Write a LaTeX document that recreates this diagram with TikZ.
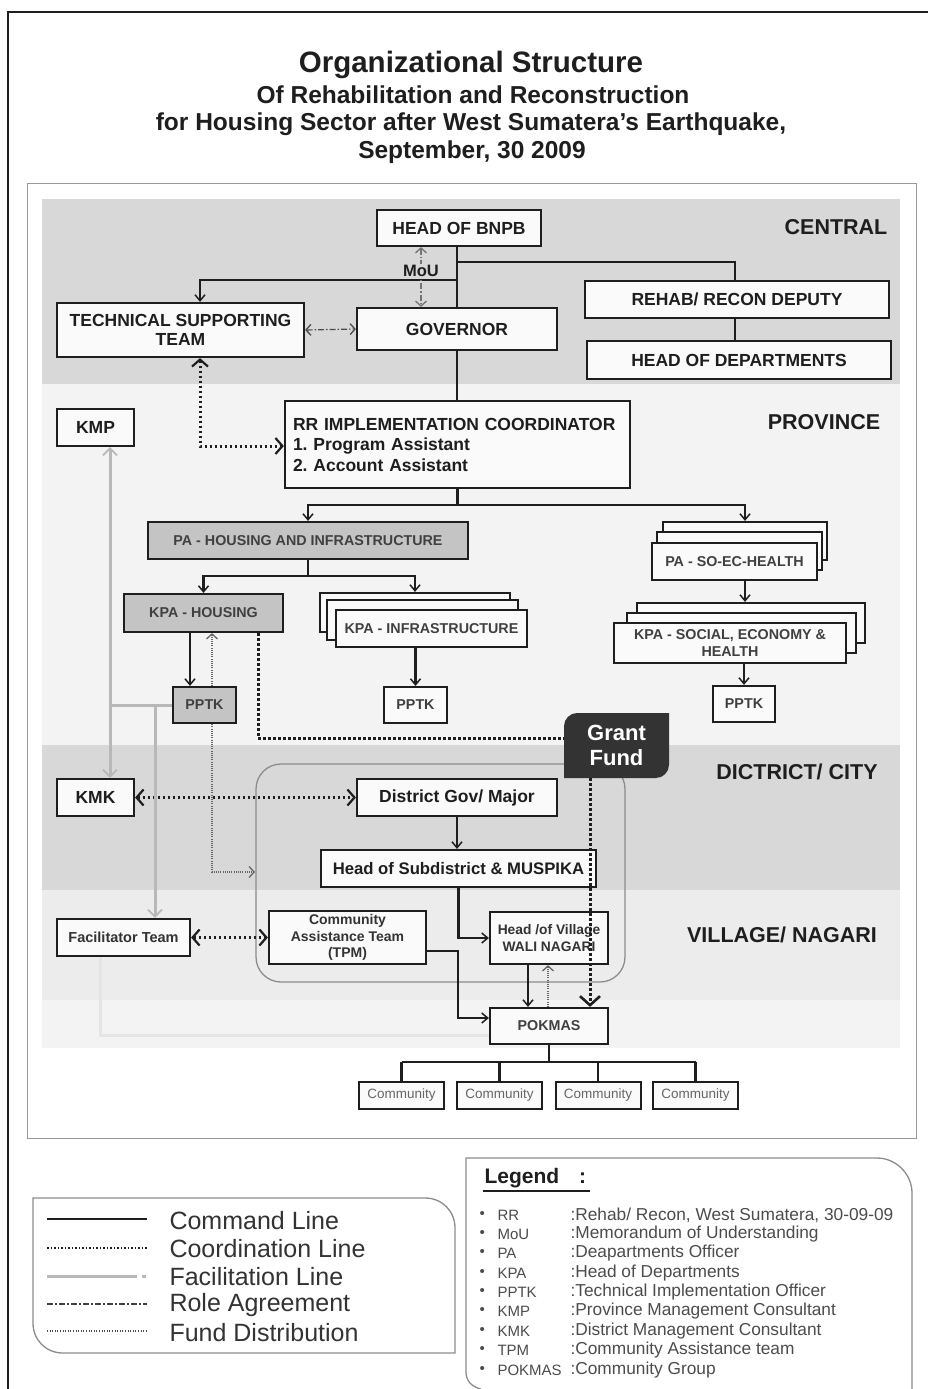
\documentclass[tikz,border=0pt]{standalone}
\usepackage{fontspec}
\setmainfont{Liberation Sans}
\usetikzlibrary{arrows.meta}

\definecolor{band}{HTML}{D8D8D8}
\definecolor{bandlight}{HTML}{ECECEC}
\definecolor{prov}{HTML}{F3F3F3}
\definecolor{boxgray}{HTML}{C4C4C4}
\definecolor{ink}{HTML}{1E1E1E}
\definecolor{paper}{HTML}{FAFAFA}
\definecolor{grantfill}{HTML}{333333}

\begin{document}
\begin{tikzpicture}[x=1pt,y=-1pt,
  box/.style={draw=ink, line width=2.2pt, fill=paper, inner sep=1pt, text=ink, align=center,
    font=\bfseries\fontsize{17.5}{19}\selectfont},
  small/.style={font=\bfseries\fontsize{14.3}{16}\selectfont, text=black!75},
  tiny/.style={font=\bfseries\fontsize{14}{16.5}\selectfont, text=black!80},
  shaded/.style={fill=boxgray},
  layer/.style={draw=ink, line width=2.2pt, fill=paper, inner sep=0pt},
  comm/.style={draw=ink, line width=2pt, fill=paper, inner sep=0pt,
    font=\fontsize{13.5}{15}\selectfont, text=black!60},
  level/.style={font=\bfseries\fontsize{21.5}{23}\selectfont, text=ink},
  cmd/.style={draw=ink, line width=2.6pt},
  tip/.style={-{Straight Barb[length=6pt,width=10pt,line width=1.5pt]}},
  coord/.style={draw=ink, line width=3pt, dash pattern=on 2.4pt off 2.6pt},
  ctips/.style={{Straight Barb[length=7pt,width=16pt,line width=2.2pt]}-{Straight Barb[length=7pt,width=16pt,line width=2.2pt]}},
  facil/.style={draw=black!28, line width=3pt},
  ftip/.style={-{Straight Barb[length=7pt,width=14pt,line width=1.8pt]}},
  role/.style={draw=black!55, line width=1.2pt, dash pattern=on 6pt off 2pt on 1.5pt off 2pt},
  rtips/.style={{Straight Barb[length=5pt,width=11pt,line width=1.3pt]}-{Straight Barb[length=5pt,width=11pt,line width=1.3pt]}},
  fund/.style={draw=black!60, line width=1.6pt, dash pattern=on 1pt off 1.2pt},
  ttip/.style={-{Straight Barb[length=5pt,width=11pt,line width=1.3pt]}},
  legtext/.style={anchor=west, font=\fontsize{25}{27}\selectfont, text=black!80},
  abbr/.style={anchor=west, font=\fontsize{15}{17}\selectfont, text=black!70},
  descr/.style={anchor=west, font=\fontsize{17.3}{19}\selectfont, text=black!70}
]

\useasboundingbox (0,0) rectangle (928,1389);
\fill[white] (0,0) rectangle (928,1389);

% page frame
\draw[ink, line width=2pt] (8,1389) -- (8,12) -- (928,12);

% title
\node[font=\bfseries\fontsize{29.5}{32}\selectfont, text=ink] (t1) at (471,65) {Organizational Structure};
\node[font=\bfseries\fontsize{24.5}{27}\selectfont, text=ink] (t2) at (473,95) {Of Rehabilitation and Reconstruction};
\node[font=\bfseries\fontsize{24.5}{27}\selectfont, text=ink] (t3) at (471,124) {for Housing Sector after West Sumatera's Earthquake,};
\node[font=\bfseries\fontsize{24.5}{27}\selectfont, text=ink] (t4) at (472,152) {September, 30 2009};

% diagram frame and level bands
\draw[black!40, line width=1pt] (27,183) rectangle (916,1138);
\fill[band] (42,199) rectangle (900,384);
\fill[prov] (42,384) rectangle (900,745);
\fill[band] (42,745) rectangle (900,890);
\fill[bandlight] (42,890) rectangle (900,1000);
\fill[prov] (42,1000) rectangle (900,1048);

% district/village grouping
\draw[black!45, line width=1.3pt, rounded corners=25pt] (256,764) rectangle (625,982);

% level labels
\node[level] (lc) at (836,227) {CENTRAL};
\node[level] (lp) at (824,422) {PROVINCE};
\node[level] (ld) at (797,772) {DICTRICT/ CITY};
\node[level] (lv) at (782,935) {VILLAGE/ NAGARI};

% central level
\node[box, minimum width=164pt, minimum height=36pt] (bnpb) at (459,228) {HEAD OF BNPB};
\node[box, minimum width=200pt, minimum height=42pt] (gov) at (457,329) {GOVERNOR};
\node[box, minimum width=247pt, minimum height=54pt, font=\bfseries\fontsize{17.5}{19}\selectfont] (tst) at (180.5,330) {TECHNICAL SUPPORTING\\TEAM};
\node[box, minimum width=304pt, minimum height=37pt] (deputy) at (737,299.5) {REHAB/ RECON DEPUTY};
\node[box, minimum width=304pt, minimum height=38pt] (heads) at (739,360) {HEAD OF DEPARTMENTS};

% province level
\node[box, minimum width=345pt, minimum height=87pt, align=left, text width=329pt,
  font=\bfseries\fontsize{17.5}{20.5}\selectfont] (rr) at (457.5,444.5)
  {RR IMPLEMENTATION COORDINATOR\\1.\ Program Assistant\\2.\ Account Assistant};
\node[box, minimum width=77pt, minimum height=37pt] (kmp) at (95.5,427.5) {KMP};
\node[box, small, shaded, minimum width=320pt, minimum height=37pt] (pahi) at (308,540.5) {PA - HOUSING AND INFRASTRUCTURE};

\node[layer, minimum width=164pt, minimum height=38pt] (soecB) at (745,541) {};
\node[layer, minimum width=165pt, minimum height=38pt] (soecM) at (739.5,551) {};
\node[box, small, minimum width=165pt, minimum height=37pt] (soecF) at (734.5,561.5) {PA - SO-EC-HEALTH};

\node[box, small, shaded, minimum width=159pt, minimum height=38pt] (kpah) at (203.5,613) {KPA - HOUSING};

\node[layer, minimum width=190pt, minimum height=39pt] (infraB) at (415,612.5) {};
\node[layer, minimum width=191pt, minimum height=40pt] (infraM) at (422.5,620) {};
\node[box, small, minimum width=191pt, minimum height=37pt] (infraF) at (431.5,628.5) {KPA - INFRASTRUCTURE};

\node[layer, minimum width=228pt, minimum height=40pt] (socB) at (751,623) {};
\node[layer, minimum width=229pt, minimum height=40pt] (socM) at (741.5,633) {};
\node[box, small, minimum width=232pt, minimum height=40pt, font=\bfseries\fontsize{14.3}{17}\selectfont] (socF) at (730,643) {KPA - SOCIAL, ECONOMY \&\\HEALTH};

\node[box, small, shaded, minimum width=63pt, minimum height=36pt] (pptk1) at (204.5,705) {PPTK};
\node[box, small, minimum width=63pt, minimum height=36pt] (pptk2) at (415.5,705) {PPTK};
\node[box, small, minimum width=62pt, minimum height=36pt] (pptk3) at (744,704) {PPTK};

% district and village level
\node[box, minimum width=200pt, minimum height=37pt, font=\bfseries\fontsize{17.5}{19}\selectfont] (dgov) at (457,797.5) {District Gov/ Major};
\node[box, minimum width=275pt, minimum height=37pt, font=\bfseries\fontsize{16.7}{19}\selectfont] (hsub) at (458.5,868.5) {Head of Subdistrict \& MUSPIKA};
\node[box, minimum width=77pt, minimum height=37pt] (kmk) at (95.5,797.5) {KMK};
\node[box, minimum width=133pt, minimum height=37pt, font=\bfseries\fontsize{14.5}{16}\selectfont, text=black!80] (fac) at (123.5,937.5) {Facilitator Team};
\node[box, tiny, minimum width=157pt, minimum height=53pt] (tpm) at (347.5,937.5) {Community\\Assistance Team\\(TPM)};
\node[box, tiny, minimum width=118pt, minimum height=52pt, font=\bfseries\fontsize{13.8}{17}\selectfont] (hov) at (549,938) {Head /of Village\\WALI NAGARI};
\node[box, small, minimum width=118pt, minimum height=36pt] (pok) at (549,1026) {POKMAS};

\node[comm, minimum width=85pt, minimum height=27pt] (c1) at (401.5,1095) {Community};
\node[comm, minimum width=85pt, minimum height=27pt] (c2) at (499.5,1095) {Community};
\node[comm, minimum width=85pt, minimum height=27pt] (c3) at (598,1095) {Community};
\node[comm, minimum width=85pt, minimum height=27pt] (c4) at (695.5,1095) {Community};

% grant fund block
\fill[grantfill] (564,778) -- (564,726) .. controls (564,719) and (570,713) .. (577,713)
  -- (669,713) -- (669,765) .. controls (669,772) and (663,778) .. (656,778) -- cycle;
\node[font=\bfseries\fontsize{22}{25}\selectfont, text=white, align=center,
  minimum width=105pt, minimum height=65pt, inner sep=0pt] (grant) at (616.5,745.5) {Grant\\Fund};

% command lines
\coordinate (j1) at (457,262);
\coordinate (j2) at (457,280);
\coordinate (j3) at (457.5,505);
\coordinate (j4) at (308,576);
\draw[cmd] (gov.north |- bnpb.south) -- (gov.north);
\draw[cmd] (j1) -| (deputy.north -| 735,0);
\draw[cmd, tip] (j2) -| (tst.north -| 200,0);
\draw[cmd] (deputy.south -| 735,0) -- (heads.north -| 735,0);
\draw[cmd] (gov.south) -- (gov.south |- rr.north);
\draw[cmd] (rr.south |- j3) -- (rr.south);
\draw[cmd, tip] (j3) -| (pahi.north);
\draw[cmd, tip] (j3) -| (soecB.north);
\draw[cmd] (pahi.south) -- (j4);
\draw[cmd, tip] (j4) -| (kpah.north);
\draw[cmd, tip] (j4) -| (infraB.north);
\draw[cmd, tip] (soecB.north |- soecF.south) -- (soecB.north |- socB.north);
\draw[cmd, tip] (kpah.south -| 190,0) -- (pptk1.north -| 190,0);
\draw[cmd, tip] (pptk2.north |- infraF.south) -- (pptk2.north);
\draw[cmd, tip] (pptk3.north |- socF.south) -- (pptk3.north);
\draw[cmd, tip] (dgov.south) -- (dgov.south |- hsub.north);
\draw[cmd, tip] (hsub.south) |- (hov.west);
\draw[cmd, tip] (tpm.east |- 0,951) -- (458,951) |- (pok.west |- 0,1018);
\draw[cmd, tip] (hov.south -| 528,0) -- (pok.north -| 528,0);
\draw[cmd] (pok.south) -- (549,1062);
\draw[cmd] (c1.north |- 0,1062) -- (c4.north |- 0,1062);
\foreach \c in {c1,c2,c3,c4} \draw[cmd] (\c.north) -- (\c.north |- 0,1062);

% role agreement lines
\draw[role, rtips] (bnpb.south -| 421,0) -- (gov.north -| 421,0);
\node[font=\bfseries\fontsize{16.5}{18}\selectfont, text=ink, fill=band, inner sep=1pt] (mou) at (421,271) {MoU};
\draw[role, rtips, draw=black!70] (tst.east) -- (gov.west);

% coordination lines
\draw[coord, ctips] (tst.south -| 200,0) |- (rr.west |- 0,446);
\draw[coord, ctips] (kmk.east) -- (dgov.west);
\draw[coord, ctips] (fac.east) -- (tpm.west);
\draw[coord] (kpah.south -| 258,0) |- (grant.west |- 0,738);
\draw[coord, -{Straight Barb[length=9pt,width=20pt,line width=2.6pt]}] (grant.south -| 590,0) -- (pok.north -| 590,0);

% fund distribution lines
\draw[fund, ttip] (pptk1.north -| 212,0) -- (kpah.south -| 212,0);
\coordinate (subin) at (255,872);
\draw[fund, ttip] (pptk1.south -| 212,0) |- (subin);
\draw[fund, ttip] (pok.north -| 548,0) -- (hov.south -| 548,0);

% facilitation lines
\draw[facil, {Straight Barb[length=7pt,width=14pt,line width=1.8pt]}-{Straight Barb[length=7pt,width=14pt,line width=1.8pt]}] (kmp.south -| 110,0) -- (kmk.north -| 110,0);
\draw[facil] (pptk1.west) -- (110,705);
\draw[facil, ftip] (155,705) -- (fac.north -| 155,0);
\draw[draw=black!10, line width=3pt] (fac.south -| 100,0) |- (pok.west |- 0,1035);

% line legend
\draw[black!45, line width=1.3pt] (33,1198) -- (425,1198) .. controls (442,1198) and (455,1211) .. (455,1228)
  -- (455,1353) -- (63,1353) .. controls (46,1353) and (33,1340) .. (33,1323) -- cycle;
\draw[cmd] (47,1219) -- (147,1219);
\draw[draw=ink, line width=2.2pt, dash pattern=on 1.5pt off 2pt] (47,1248) -- (147,1248);
\draw[facil] (47,1276) -- (137,1276);
\draw[facil] (142,1276) -- (146,1276);
\draw[draw=black!75, line width=2pt, dash pattern=on 6pt off 2pt on 2pt off 2pt] (47,1304) -- (147,1304);
\draw[draw=black!70, line width=1.4pt, dash pattern=on 1pt off 1.6pt] (47,1331) -- (147,1331);
\node[legtext] (lg1) at (166,1221) {Command Line};
\node[legtext] (lg2) at (166,1249) {Coordination Line};
\node[legtext] (lg3) at (166,1277) {Facilitation Line};
\node[legtext] (lg4) at (166,1305) {Role Agreement};
\node[legtext] (lg5) at (166,1333) {Fund Distribution};

% abbreviation legend
\draw[black!45, line width=1.3pt] (466,1372) .. controls (466,1381) and (472,1387) .. (481,1389);
\draw[black!45, line width=1.3pt] (466,1372) -- (466,1158) -- (877,1158)
  .. controls (896,1158) and (912,1174) .. (912,1193) -- (912,1392);
\node[anchor=west, font=\bfseries\fontsize{21}{23}\selectfont, text=ink] (legt) at (481,1178) {Legend\hspace{20pt}:};
\draw[ink, line width=1.3pt] (483,1191) -- (590,1191);
\foreach \y/\a/\d in {1215/RR/{Rehab/ Recon, West Sumatera, 30-09-09},
                      1234/MoU/{Memorandum of Understanding},
                      1253/PA/{Deapartments Officer},
                      1273/KPA/{Head of Departments},
                      1292/PPTK/{Technical Implementation Officer},
                      1311/KMP/{Province Management Consultant},
                      1331/KMK/{District Management Consultant},
                      1350/TPM/{Community Assistance team},
                      1370/POKMAS/{Community Group}} {
  \node[abbr] at (476,\y) {•};
  \node[abbr] at (494,\y) {\a};
  \node[descr] at (567,\y) {:\d};
}
\end{tikzpicture}
\end{document}
